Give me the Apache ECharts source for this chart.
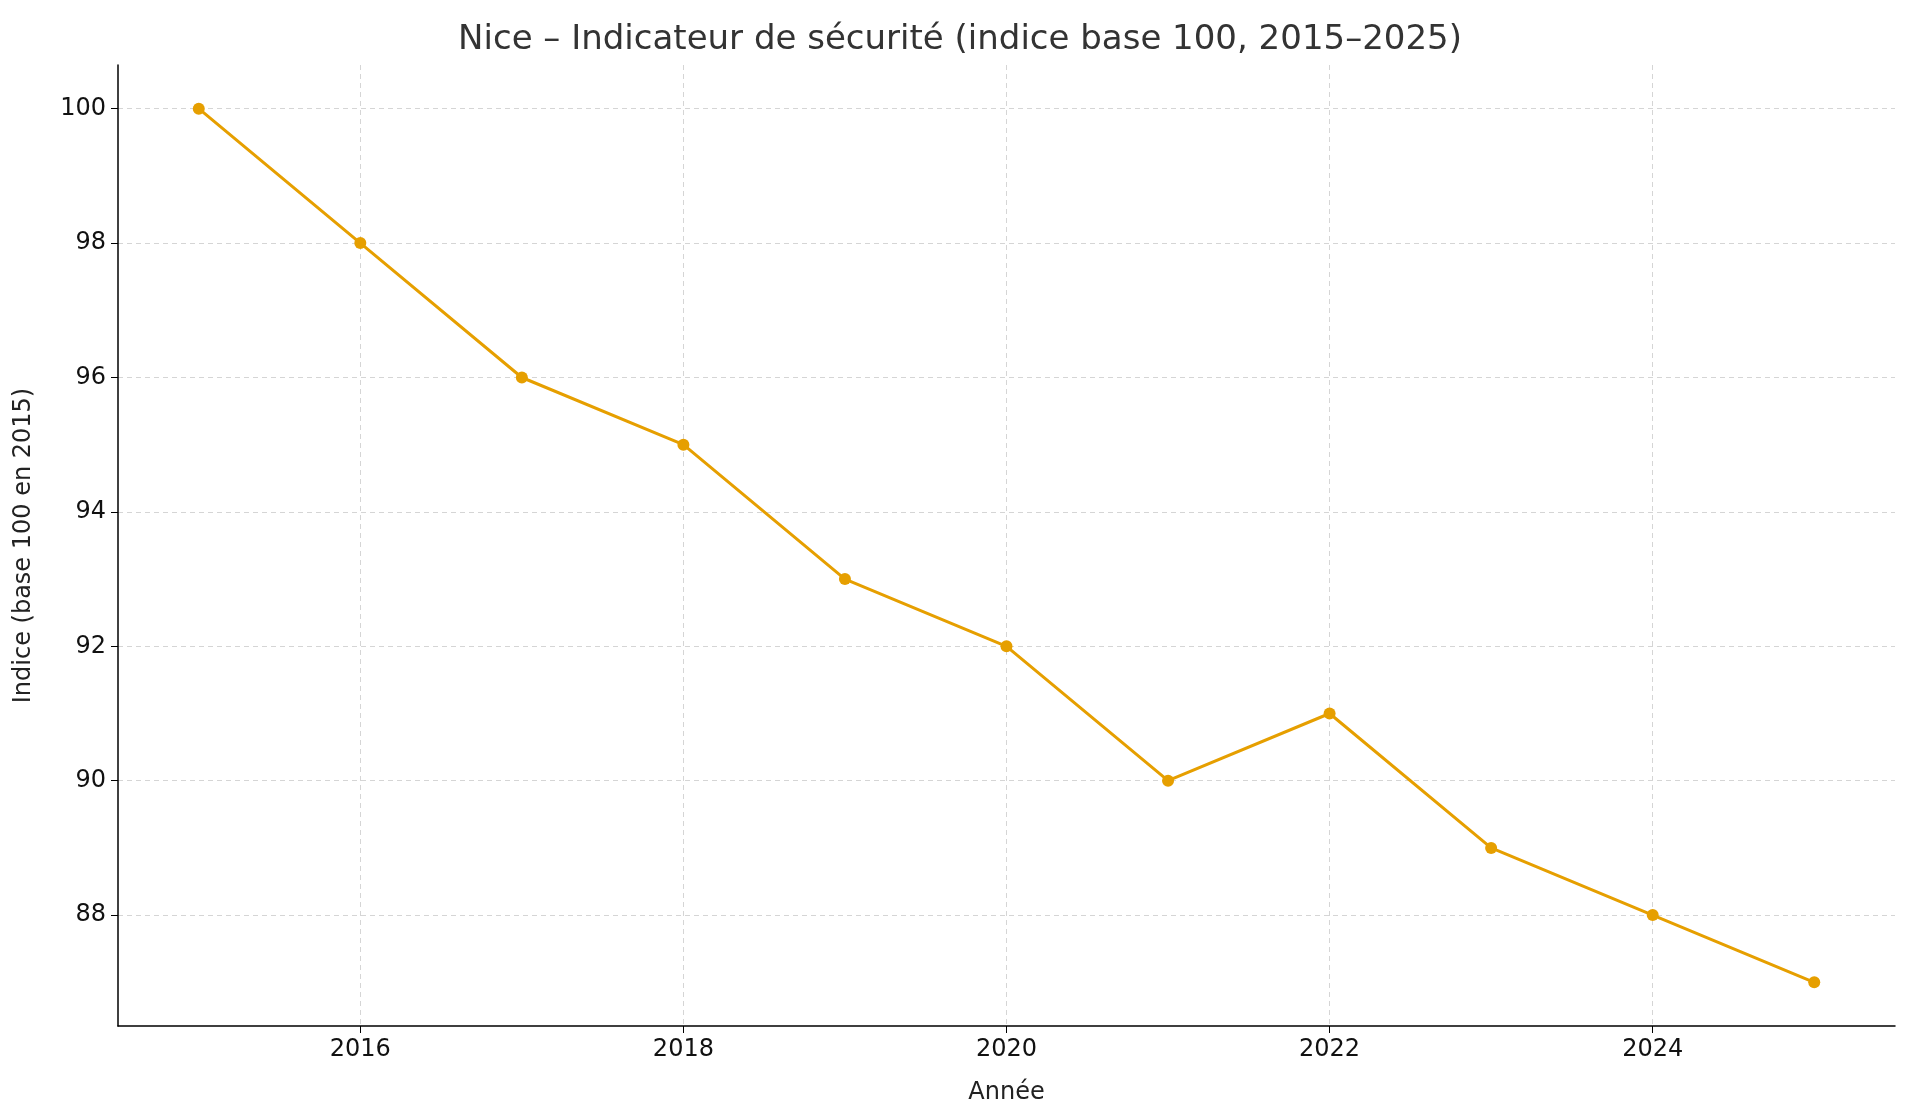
<!DOCTYPE html>
<html>
<head>
<meta charset="utf-8">
<script src="https://cdn.jsdelivr.net/npm/echarts@6/dist/echarts.min.js"></script>
<style>html,body{margin:0;background:#fff}#chart{width:1920px;height:1120px}</style>
</head>
<body>
<div id="chart"></div>
<script>
var years = [2015, 2016, 2017, 2018, 2019, 2020, 2021, 2022, 2023, 2024, 2025];
var values = [100, 98, 96, 95, 93, 92, 90, 91, 89, 88, 87];
var xTicks = [2016, 2018, 2020, 2022, 2024];
var yTicks = [88, 90, 92, 94, 96, 98, 100];

var chart = echarts.init(document.getElementById('chart'));
var font = 'DejaVu Sans';
var split = { show: true, lineStyle: { color: '#d5d5d5', type: [5, 4], width: 1 } };
chart.setOption({
  animation: false,
  textStyle: { fontFamily: font },
  title: {
    text: 'Nice – Indicateur de sécurité (indice base 100, 2015–2025)',
    left: 'center', top: 18,
    textStyle: { fontFamily: font, fontSize: 34, fontWeight: 'normal', color: '#333' }
  },
  grid: { left: 118, right: 25, top: 65, bottom: 94 },
  xAxis: {
    type: 'value', min: 2014.5, max: 2025.5,
    name: 'Année', nameLocation: 'middle', nameGap: 55,
    nameTextStyle: { fontSize: 24, color: '#222' },
    axisLine: { lineStyle: { color: '#000', width: 1.5 } },
    axisTick: { customValues: xTicks, length: 7, lineStyle: { color: '#000' } },
    axisLabel: { customValues: xTicks, fontSize: 24, color: '#111', margin: 12,
      formatter: function (v) { return String(v); } },
    splitLine: split
  },
  yAxis: {
    type: 'value', min: 86.35, max: 100.65,
    name: 'Indice (base 100 en 2015)', nameLocation: 'middle', nameGap: 82,
    nameTextStyle: { fontSize: 24, color: '#222' },
    axisLine: { show: true, lineStyle: { color: '#000', width: 1.5 } },
    axisTick: { show: true, customValues: yTicks, length: 7, lineStyle: { color: '#000' } },
    axisLabel: { customValues: yTicks, fontSize: 24, color: '#111', margin: 12 },
    splitLine: split
  },
  series: [{
    type: 'line',
    data: years.map(function (y, i) { return [y, values[i]]; }),
    symbol: 'circle', symbolSize: 12,
    lineStyle: { color: '#E69F00', width: 3 },
    itemStyle: { color: '#E69F00' }
  }]
});
</script>
</body>
</html>
